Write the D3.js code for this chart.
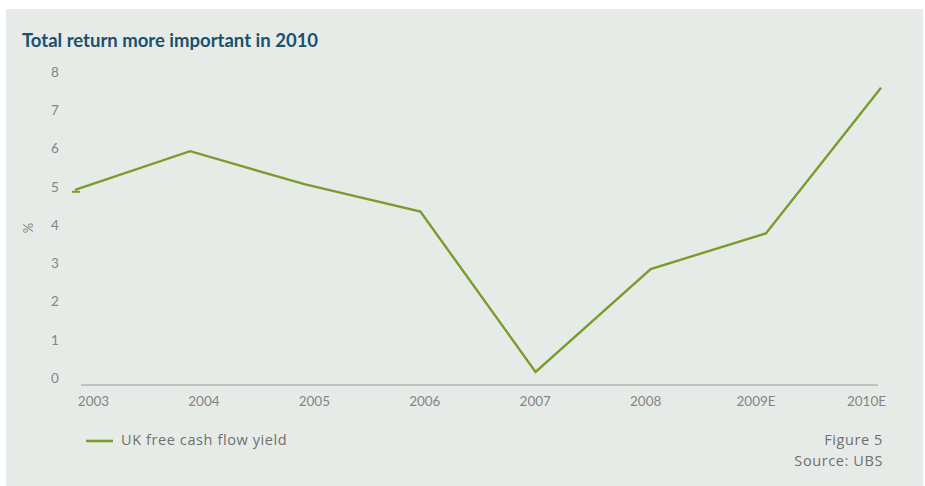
<!DOCTYPE html>
<html>
<head>
<meta charset="UTF-8">
<style>
  body { margin: 0; background: #fff; }
  text { font-family: "Lato", "DejaVu Sans", sans-serif; }
  .lbl { font-family: "Open Sans", "DejaVu Sans", sans-serif; letter-spacing: 0.6px; }
</style>
</head>
<body>
<script src="https://d3js.org/d3.v7.min.js"></script>
<script>
var width = 925, height = 486;

// data
var years = ['2003', '2004', '2005', '2006', '2007', '2008', '2009E', '2010E'];
var fcfYield = [4.92, 5.93, 5.06, 4.35, 0.16, 2.85, 3.78, 7.59];
var yTicks = [0, 1, 2, 3, 4, 5, 6, 7, 8];

var svg = d3.select('body').append('svg').attr('width', width).attr('height', height);

// panel
svg.append('rect').attr('x', 6).attr('y', 9).attr('width', 917).attr('height', 477).attr('fill', '#e6ebe8');

svg.append('text').attr('x', 22).attr('y', 47)
  .attr('fill', '#19506f').attr('font-weight', 'bold').attr('font-size', 18.5)
  .text('Total return more important in 2010');

// scales - points and labels sit on slightly different spacing in the original
var x = d3.scalePoint().domain(years).range([75, 881]);
var xLab = d3.scalePoint().domain(years).range([93, 866]);
var y = d3.scaleLinear().domain([0, 8]).range([378, 72]);

// y axis labels
var yAxis = d3.axisLeft(y).tickValues(yTicks).tickSize(0).tickPadding(0);
var gy = svg.append('g').attr('transform', 'translate(59,0)').call(yAxis);
gy.select('.domain').remove();
gy.selectAll('text').attr('fill', '#858585').attr('font-size', 13.5).attr('text-anchor', 'middle').attr('dx', -4);

svg.append('text').attr('transform', 'translate(33,228) rotate(-90)')
  .attr('text-anchor', 'middle').attr('fill', '#858585').attr('font-size', 13).text('%');

// x axis
svg.append('line').attr('x1', 81).attr('x2', 878).attr('y1', 385).attr('y2', 385)
  .attr('stroke', '#9a9a9a').attr('stroke-width', 1.2);
var xAxis = d3.axisBottom(xLab).tickSize(0).tickPadding(0);
var gx = svg.append('g').attr('transform', 'translate(0,403)').call(xAxis);
gx.select('.domain').remove();
gx.selectAll('text').attr('fill', '#858585').attr('font-size', 13.5).attr('dy', 0)
  .attr('dominant-baseline', 'middle');

// line
var green = '#7b9b2b';
var line = d3.line().x(function(d, i) { return x(years[i]); }).y(function(d) { return y(d); });
svg.append('path').datum(fcfYield).attr('d', line)
  .attr('fill', 'none').attr('stroke', green).attr('stroke-width', 2.4).attr('stroke-linejoin', 'miter');

// small stub at the first point
svg.append('line').attr('x1', x(years[0]) - 3).attr('x2', x(years[0]) + 5)
  .attr('y1', y(fcfYield[0]) + 2).attr('y2', y(fcfYield[0]) + 2)
  .attr('stroke', green).attr('stroke-width', 2);

// legend
svg.append('line').attr('x1', 86).attr('x2', 113).attr('y1', 441).attr('y2', 441)
  .attr('stroke', green).attr('stroke-width', 2.6);
svg.append('text').attr('class', 'lbl').attr('x', 121).attr('y', 441).attr('dominant-baseline', 'middle')
  .attr('fill', '#6f6f6f').attr('font-size', 14.5).text('UK free cash flow yield');

svg.append('text').attr('class', 'lbl').attr('x', 883).attr('y', 441).attr('dominant-baseline', 'middle')
  .attr('text-anchor', 'end').attr('fill', '#6f6f6f').attr('font-size', 14.5).text('Figure 5');
svg.append('text').attr('class', 'lbl').attr('x', 883).attr('y', 462).attr('dominant-baseline', 'middle')
  .attr('text-anchor', 'end').attr('fill', '#6f6f6f').attr('font-size', 14.5).text('Source: UBS');
</script>
</body>
</html>
